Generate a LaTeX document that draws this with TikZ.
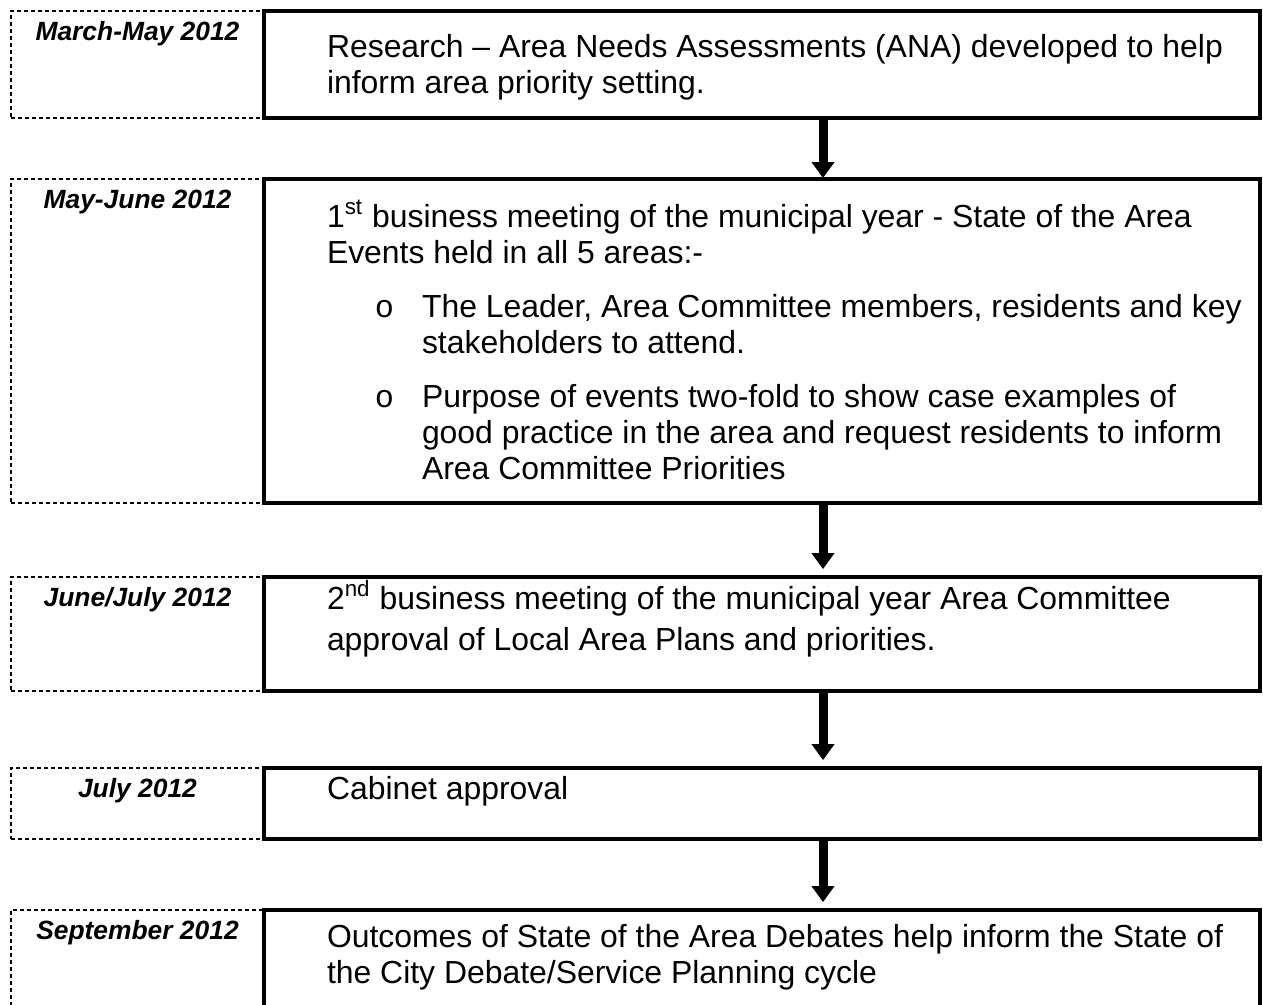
\documentclass[tikz,border=0pt]{standalone}
\usepackage{fontspec}
\setmainfont{Liberation Sans}
\newfontfamily\bulletfont{Liberation Mono}
\usetikzlibrary{arrows.meta}

\newdimen\pxu
\pxu=0.4167pt

% text of a stage box: height, first baseline, text
\newcommand{\stagetext}[3]{\parbox[c][#1\pxu][t]{996\pxu}{\raggedright\leftskip=63\pxu\parskip=0pt\baselineskip=36\pxu\rule{0pt}{#2\pxu}#3}}
% text of a date box: height, label
\newcommand{\datetext}[2]{\parbox[c][#1\pxu][t]{253\pxu}{\centering\rule{0pt}{29\pxu}#2}}
\newcommand{\bulletitem}[1]{\par\vspace{18\pxu}{\leftskip=158\pxu\leavevmode\llap{\bulletfont o\hspace{28\pxu}}#1\par}}

\tikzset{
  stage/.style={draw, line width=1.67pt, anchor=north west, inner sep=0pt, outer sep=0pt,
    font=\fontsize{13.3}{15.3}\selectfont},
  datebox/.style={draw, line width=0.75pt, dash pattern=on 1.67pt off 1.25pt, anchor=north east,
    inner sep=0pt, outer sep=0pt, font=\fontsize{11}{13}\selectfont\bfseries\itshape},
  flow/.style={line width=3.75pt, -{Triangle[length=6.67pt,width=9.17pt]}, shorten >=3.3pt}
}

\begin{document}
\begin{tikzpicture}[x=0.4167pt, y=-0.4167pt]
\clip (0,0) rectangle (1263,1004);
\coordinate (ax) at (823,0);

% stages
\node[stage] (s1) at (264,11) {\stagetext{107}{46}{Research – Area Needs Assessments (ANA) developed to help\\inform area priority setting.}};
\node[stage] (s2) at (264,179) {\stagetext{324}{48}{1\textsuperscript{st} business meeting of the municipal year - State of the Area\\Events held in all 5 areas:-%
  \bulletitem{The Leader, Area Committee members, residents and key\\stakeholders to attend.}%
  \bulletitem{Purpose of events two-fold to show case examples of\\good practice in the area and request residents to inform\\Area Committee Priorities}}};
\node[stage] (s3) at (264,577) {\stagetext{114}{32}{\baselineskip=41\pxu 2\textsuperscript{nd} business meeting of the municipal year Area Committee\\approval of Local Area Plans and priorities.}};
\node[stage] (s4) at (264,768) {\stagetext{71}{31}{Cabinet approval}};
\node[stage] (s5) at (264,910) {\stagetext{110}{37}{Outcomes of State of the Area Debates help inform the State of\\the City Debate/Service Planning cycle}};

% dates
\node[datebox] (d1) at (s1.north west) {\datetext{107}{March-May 2012}};
\node[datebox] (d2) at (s2.north west) {\datetext{324}{May-June 2012}};
\node[datebox] (d3) at (s3.north west) {\datetext{114}{June/July 2012}};
\node[datebox] (d4) at (s4.north west) {\datetext{71}{July 2012}};
\node[datebox] (d5) at (s5.north west) {\datetext{110}{September 2012}};

% arrows
\draw[flow, shorten >=0.4pt] (s1.south -| ax) -- (s2.north -| ax);
\draw[flow] (s2.south -| ax) -- (s3.north -| ax);
\draw[flow] (s3.south -| ax) -- (s4.north -| ax);
\draw[flow] (s4.south -| ax) -- (s5.north -| ax);
\end{tikzpicture}
\end{document}
